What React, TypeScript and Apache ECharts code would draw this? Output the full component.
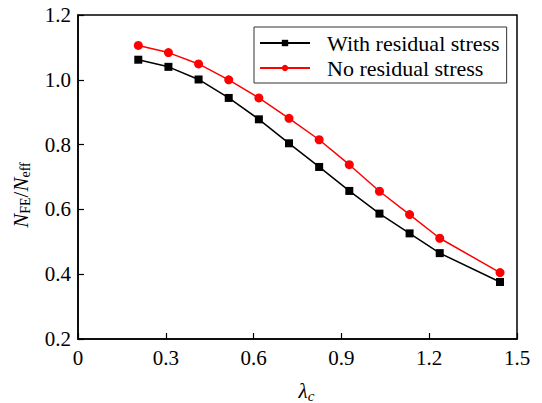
import React, { useEffect, useRef } from "react";
import * as echarts from "echarts";

const lambdaC = [0.206, 0.309, 0.412, 0.515, 0.618, 0.721, 0.824, 0.927, 1.03, 1.133, 1.236, 1.442];
const withResidual = [1.062, 1.04, 1.001, 0.944, 0.878, 0.804, 0.731, 0.657, 0.587, 0.526, 0.465, 0.376];
const noResidual = [1.106, 1.084, 1.049, 1.0, 0.944, 0.881, 0.815, 0.738, 0.656, 0.584, 0.511, 0.405];
const seriesNames = ["With residual stress", "No residual stress"];

const FONT = "Liberation Serif, Times New Roman, serif";

export default function App() {
  const ref = useRef<HTMLDivElement>(null);
  useEffect(() => {
    if (!ref.current) return;
    const chart = echarts.init(ref.current, undefined, { renderer: "svg" });
    const sub = { fontFamily: FONT, fontSize: 14, color: "#000", padding: [9, 0, 0, 0] };
    chart.setOption({
      animation: false,
      backgroundColor: "#fff",
      textStyle: { fontFamily: FONT },
      grid: {
        left: 78,
        right: 25,
        top: 15,
        bottom: 64,
        outerBoundsMode: "none",
        containLabel: false,
        show: true,
        borderColor: "#000",
        borderWidth: 1.5,
        backgroundColor: "transparent",
      },
      legend: {
        left: 254,
        top: 27,
        orient: "vertical",
        itemWidth: 50,
        itemHeight: 8,
        itemGap: 1,
        padding: [4, 7, 3, 5],
        borderColor: "#333",
        borderWidth: 1,
        textStyle: { fontFamily: FONT, fontSize: 22, lineHeight: 24, color: "#000", padding: [0, 0, 0, 12] },
        data: seriesNames,
      },
      xAxis: {
        type: "value",
        min: 0,
        max: 1.5,
        interval: 0.3,
        name: "{l|λ}{s|c}",
        nameLocation: "middle",
        nameGap: 40,
        nameTextStyle: {
          rich: {
            l: { fontFamily: FONT, fontStyle: "italic", fontSize: 21, color: "#000", lineHeight: 24 },
            s: { ...sub, fontStyle: "italic", fontSize: 15 },
          },
          padding: [0, 0, 0, 18],
        },
        splitLine: { show: false },
        axisLine: { lineStyle: { color: "#000", width: 1.5 } },
        axisTick: { inside: true, length: 6, lineStyle: { color: "#000", width: 1.2 } },
        axisLabel: {
          margin: 8,
          fontFamily: FONT,
          fontSize: 21,
          color: "#000",
          formatter: (v: number) => (v === 0 ? "0" : v.toFixed(1)),
        },
      },
      yAxis: {
        type: "value",
        min: 0.2,
        max: 1.2,
        interval: 0.2,
        name: "{n|N}{s|FE}{m|/}{n|N}{s|eff}",
        nameLocation: "middle",
        nameRotate: 90,
        nameGap: 45,
        nameTextStyle: {
          rich: {
            n: { fontFamily: FONT, fontStyle: "italic", fontSize: 21, color: "#000", lineHeight: 24 },
            m: { fontFamily: FONT, fontSize: 21, color: "#000", lineHeight: 24 },
            s: sub,
          },
          padding: [0, 36, 0, 0],
        },
        splitLine: { show: false },
        axisLine: { lineStyle: { color: "#000", width: 1.5 } },
        axisTick: { inside: true, length: 6, lineStyle: { color: "#000", width: 1.2 } },
        axisLabel: {
          margin: 7,
          fontFamily: FONT,
          fontSize: 21,
          color: "#000",
          formatter: (v: number) => v.toFixed(1),
        },
      },
      series: [
        {
          name: seriesNames[0],
          type: "line",
          data: lambdaC.map((x, i) => [x, withResidual[i]]),
          symbol: "rect",
          symbolSize: 8,
          color: "#000",
          lineStyle: { color: "#000", width: 1.5 },
          itemStyle: { color: "#000" },
        },
        {
          name: seriesNames[1],
          type: "line",
          data: lambdaC.map((x, i) => [x, noResidual[i]]),
          symbol: "circle",
          symbolSize: 9,
          color: "#ff0000",
          lineStyle: { color: "#ff0000", width: 1.5 },
          itemStyle: { color: "#ff0000" },
        },
      ],
    });
    return () => chart.dispose();
  }, []);
  return <div ref={ref} style={{ width: 542, height: 403, position: "absolute", left: 0, top: 0 }} />;
}
